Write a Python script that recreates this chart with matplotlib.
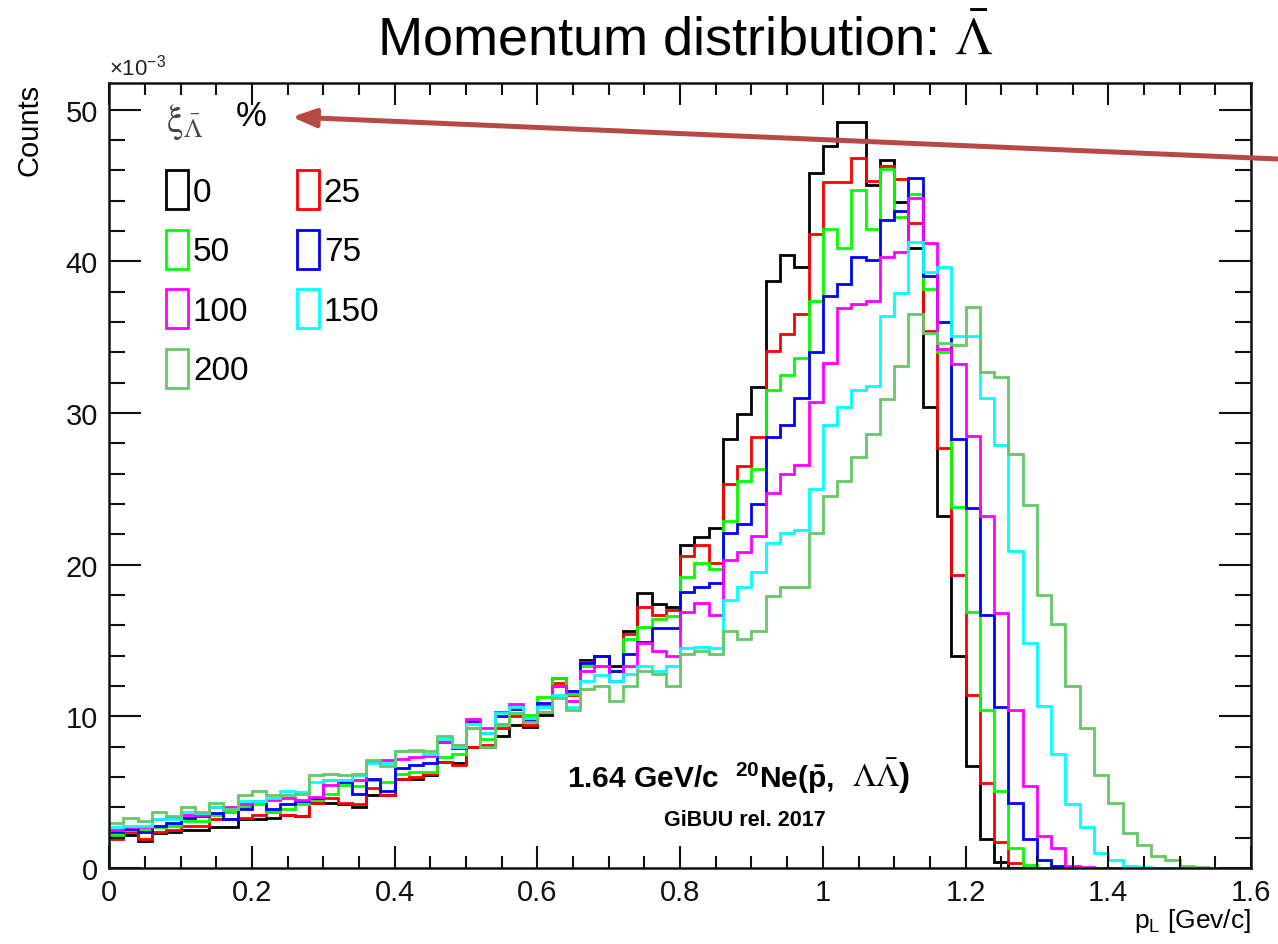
import numpy as np
import matplotlib
matplotlib.use("Agg")
import matplotlib.pyplot as plt
import matplotlib.patches as patches
from matplotlib.ticker import MultipleLocator, FuncFormatter

plt.rcParams["font.family"] = ["Liberation Sans", "DejaVu Sans"]
plt.rcParams["mathtext.fontset"] = "custom"
plt.rcParams["mathtext.rm"] = "Liberation Sans"
plt.rcParams["mathtext.it"] = "Liberation Sans:italic"
plt.rcParams["mathtext.bf"] = "Liberation Sans:bold"

# histogram binning: 80 bins of 0.02 GeV/c between 0 and 1.6
BIN_EDGES = np.linspace(0.0, 1.6, 81)
SCALE = 1e-3

# bin contents, in units of 1e-3 (empty bins are left out at the end)
xi_labels = ["0", "25", "50", "75", "100", "150", "200"]

counts_0 = [2.1, 2.2, 1.75, 2.3, 2.4, 2.5, 2.5, 2.7, 2.7, 3.2,
            3.2, 3.3, 3.5, 3.4, 4.3, 4.3, 4.2, 4.0, 4.8, 4.8,
            5.9, 5.9, 6.1, 7.0, 6.9, 8.0, 8.0, 8.7, 9.4, 9.3,
            10.1, 12.5, 11.5, 13.7, 14.0, 13.3, 15.6, 18.1, 17.4, 17.2,
            21.3, 21.8, 22.4, 28.3, 29.9, 31.7, 38.7, 40.4, 39.6, 45.8,
            47.6, 49.2, 49.2, 45.0, 46.7, 43.9, 40.9, 30.4, 23.2, 14.0,
            6.7, 1.9, 0.4]

counts_25 = [1.9, 2.4, 1.9, 2.4, 2.5, 2.8, 2.8, 3.2, 3.2, 3.3,
             3.5, 3.7, 3.5, 3.4, 4.3, 4.6, 4.3, 4.2, 5.3, 4.8,
             5.9, 6.0, 6.2, 7.0, 6.8, 8.0, 8.1, 9.2, 10.0, 9.4,
             10.3, 12.2, 11.4, 13.6, 14.0, 13.0, 15.4, 17.2, 16.7, 17.0,
             20.6, 21.3, 20.1, 25.3, 26.5, 28.4, 34.1, 35.2, 36.5, 41.8,
             45.2, 45.2, 46.8, 45.3, 46.3, 45.4, 42.5, 35.4, 27.7, 19.3,
             11.4, 5.6, 1.7, 0.3]

counts_50 = [2.2, 2.5, 2.5, 2.7, 2.8, 3.1, 3.1, 3.5, 3.7, 4.0,
             4.2, 3.7, 3.9, 4.2, 4.5, 4.9, 5.5, 5.4, 5.8, 5.7,
             6.2, 6.3, 6.3, 7.3, 7.5, 9.2, 8.5, 9.5, 10.2, 10.1,
             11.3, 12.5, 11.5, 13.3, 13.3, 13.0, 15.1, 15.9, 16.4, 16.6,
             19.2, 20.1, 19.7, 22.9, 25.5, 26.3, 31.5, 32.5, 33.6, 37.4,
             42.1, 40.9, 44.7, 42.1, 46.1, 42.9, 44.4, 38.2, 34.0, 23.8,
             16.9, 10.4, 5.1, 1.3, 0.2]

counts_75 = [2.4, 2.6, 2.4, 2.8, 2.95, 3.3, 3.4, 3.6, 3.2, 3.9,
             4.4, 3.9, 4.2, 4.4, 4.6, 5.8, 5.7, 4.9, 5.9, 5.1,
             6.6, 6.8, 6.9, 8.3, 7.9, 9.7, 8.9, 10.0, 10.5, 9.7,
             10.9, 12.0, 11.7, 13.5, 14.0, 13.0, 14.1, 14.9, 15.8, 15.8,
             18.2, 18.5, 18.8, 22.1, 22.7, 24.0, 28.4, 29.2, 31.0, 34.0,
             37.7, 38.5, 40.3, 40.1, 42.7, 43.3, 45.5, 39.0, 36.0, 28.3,
             23.7, 16.7, 10.6, 4.3, 1.9, 0.5, 0.15]

counts_100 = [2.5, 2.7, 2.7, 3.2, 3.3, 3.5, 3.5, 4.0, 4.0, 4.2,
              4.4, 4.5, 4.6, 4.5, 4.7, 5.5, 5.8, 5.8, 7.0, 7.1,
              7.2, 7.3, 7.4, 8.3, 8.1, 9.8, 9.2, 10.3, 10.8, 9.9,
              10.7, 12.0, 11.0, 13.0, 13.3, 12.3, 13.3, 14.8, 14.3, 14.0,
              16.9, 17.5, 16.7, 20.3, 20.8, 21.9, 24.7, 26.0, 26.6, 30.7,
              33.3, 36.9, 37.2, 37.4, 40.3, 40.6, 44.2, 41.2, 34.2, 33.2,
              28.5, 23.2, 16.8, 10.4, 5.4, 2.1, 1.3, 0.15, 0.05]

counts_150 = [2.7, 2.8, 2.8, 3.2, 3.2, 3.7, 3.6, 4.0, 3.9, 4.4,
              4.4, 4.6, 5.1, 5.0, 5.7, 5.8, 5.8, 6.1, 6.9, 6.9,
              7.7, 7.8, 7.5, 8.5, 8.0, 9.5, 8.9, 10.2, 10.6, 9.9,
              10.6, 11.4, 10.6, 12.3, 12.7, 12.3, 12.8, 13.3, 13.0, 13.3,
              14.5, 14.6, 14.5, 17.7, 18.5, 19.5, 21.4, 22.1, 22.3, 25.0,
              29.2, 30.4, 31.5, 31.8, 36.4, 37.9, 41.3, 39.3, 39.6, 35.1,
              35.1, 31.0, 27.9, 20.9, 14.8, 10.7, 7.5, 4.2, 2.7, 1.0,
              0.5, 0.15, 0.05]

counts_200 = [2.95, 3.3, 3.1, 3.7, 3.4, 4.0, 3.7, 4.3, 3.9, 4.8,
              5.1, 4.8, 4.8, 4.9, 6.1, 6.2, 6.1, 6.2, 7.1, 6.7,
              7.7, 7.7, 7.7, 8.7, 8.1, 9.2, 8.0, 9.4, 10.2, 9.6,
              10.3, 11.2, 10.4, 11.8, 12.0, 11.0, 12.0, 13.0, 12.8, 12.0,
              14.1, 14.3, 14.1, 15.6, 15.1, 15.6, 17.9, 18.5, 18.5, 22.1,
              24.5, 25.5, 27.1, 28.6, 30.9, 33.1, 36.5, 35.3, 34.6, 34.5,
              37.0, 32.7, 32.4, 27.3, 23.9, 18.0, 16.1, 12.0, 9.2, 6.1,
              4.3, 2.3, 1.5, 0.8, 0.5, 0.15, 0.05]

all_counts = [counts_0, counts_25, counts_50, counts_75, counts_100, counts_150, counts_200]
colors = ["#000000", "#ff0000", "#00ff00", "#0000ff", "#ff00ff", "#00ffff", "#66c866"]

W, H, DPI = 1278, 945, 100
fig = plt.figure(figsize=(W / DPI, H / DPI), dpi=DPI)
ax = fig.add_axes([109.2 / W, 1 - 869 / H, (1251 - 109.2) / W, (869 - 84) / H])

nbins = len(BIN_EDGES) - 1
for vals, c, lab in zip(all_counts, colors, xi_labels):
	y = np.zeros(nbins)
	y[:len(vals)] = np.array(vals) * SCALE
	ax.stairs(y, BIN_EDGES, color=c, lw=2.0, baseline=0, label=lab)

ax.set_xlim(0, 1.6)
ax.set_ylim(0, 0.05175)

# ROOT-like axes: ticks inside on every side
ax.xaxis.set_major_locator(MultipleLocator(0.2))
ax.xaxis.set_minor_locator(MultipleLocator(0.05))
ax.yaxis.set_major_locator(MultipleLocator(0.01))
ax.yaxis.set_minor_locator(MultipleLocator(0.002))
ax.xaxis.set_major_formatter(FuncFormatter(lambda v, p: f"{v:g}"))
ax.yaxis.set_major_formatter(FuncFormatter(lambda v, p: f"{v / SCALE:g}"))
ax.tick_params(which="both", direction="in", top=True, right=True, width=1.5, colors="#111111", labelsize=21)
ax.tick_params(axis="x", which="major", length=16, pad=7)
ax.tick_params(axis="x", which="minor", length=8.5)
ax.tick_params(axis="y", which="major", length=23, pad=8)
ax.tick_params(axis="y", which="minor", length=11.5)
for s in ax.spines.values():
	s.set_linewidth(1.8)
	s.set_color("#111111")

ax.set_xlabel(r"p$_\mathrm{L}$ [Gev/c]", fontsize=19, loc="right", labelpad=0)
ax.set_ylabel("Counts", fontsize=21, loc="top", labelpad=16)
ax.text(0.0, 1.005, r"$\times$10$^{-3}$", transform=ax.transAxes, fontsize=16, ha="left", va="bottom", color="#222222")

fig.text(0.536, 1 - 56 / H, r"Momentum distribution: $\bar{\Lambda}$", fontsize=39, ha="center", va="baseline",
	math_fontfamily="stix")

# legend, filled row by row like the ROOT TLegend
order = [0, 2, 4, 6, 1, 3, 5]
handles = [patches.Patch(facecolor="white", edgecolor=colors[i], lw=2.0, label=xi_labels[i]) for i in order]
ax.legend(handles=handles, ncol=2, frameon=False, fontsize=24, loc="upper left",
	bbox_to_anchor=(166 / W, 1 - 171 / H), bbox_transform=fig.transFigure,
	handlelength=0.66, handleheight=1.42, handletextpad=0.15, labelspacing=0.62,
	columnspacing=1.45, borderpad=0, borderaxespad=0)

fig.text(166 / W, 1 - 122 / H, r"$\mathrm{\xi}_{\bar{\Lambda}}$", fontsize=27, color="#444444",
	va="center", ha="left", math_fontfamily="stix")
fig.text(236 / W, 1 - 117 / H, "%", fontsize=25, color="black", va="center", ha="left")

# reaction label
t1 = ax.text(0.401, 0.116, r"1.64 GeV/c  $^{\mathbf{20}}$Ne($\mathbf{\bar{p}}$,   ", transform=ax.transAxes,
	fontsize=21.5, fontweight="bold", ha="left", va="center")
ax.annotate(r"$\Lambda\bar{\Lambda}$)", xy=(1, 0), xycoords=t1, fontsize=24, fontweight="bold",
	ha="left", va="bottom", math_fontfamily="stix")
ax.text(0.557, 0.062, "GiBUU rel. 2017", transform=ax.transAxes, fontsize=15.5, fontweight="bold",
	ha="center", va="center")

# pointer arrow
ax.annotate("", xy=(292 / W, 1 - 118 / H), xytext=(1.0, 1 - 160 / H),
	xycoords="figure fraction", textcoords="figure fraction", annotation_clip=False,
	arrowprops=dict(arrowstyle="-|>,head_length=1.4,head_width=0.55", color="#b84a45", lw=3.6,
		shrinkA=0, shrinkB=0))

fig.savefig("out.png", dpi=DPI)
